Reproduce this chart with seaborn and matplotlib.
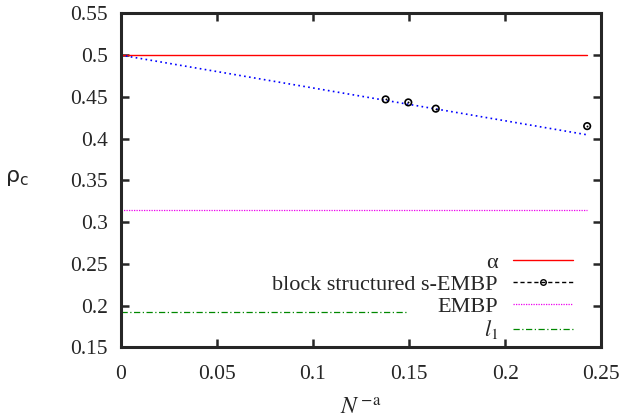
import matplotlib
matplotlib.use("Agg")
import matplotlib.pyplot as plt
from matplotlib.lines import Line2D
import seaborn as sns

# data
alpha_x = [0.0, 0.2427]
alpha_y = [0.5, 0.5]

sembp_x = [0.1378, 0.1496, 0.1639, 0.2427]
sembp_y = [0.447, 0.4434, 0.4359, 0.415]

fit_x = [0.0, 0.2427]
fit_y = [0.5, 0.4046]

embp_x = [0.0, 0.2427]
embp_y = [0.315, 0.315]

l1_x = [0.0, 0.149]
l1_y = [0.192, 0.192]

xticks = [0, 0.05, 0.1, 0.15, 0.2, 0.25]
xtick_labels = ["0", "0.05", "0.1", "0.15", "0.2", "0.25"]
yticks = [0.15, 0.2, 0.25, 0.3, 0.35, 0.4, 0.45, 0.5, 0.55]
ytick_labels = ["0.15", "0.2", "0.25", "0.3", "0.35", "0.4", "0.45", "0.5", "0.55"]

sns.set_style("ticks")
plt.rcParams["font.family"] = ["Liberation Serif", "DejaVu Serif"]
plt.rcParams["mathtext.fontset"] = "stix"

fig = plt.figure(figsize=(6.23, 4.19), dpi=100)
ax = fig.add_axes([0.194, 0.171, 0.771, 0.797])

sns.lineplot(x=alpha_x, y=alpha_y, ax=ax, color="#ff0000", lw=1.0)
sns.lineplot(x=fit_x, y=fit_y, ax=ax, color="#0000ff", lw=1.2, linestyle=(0, (1, 2)))
sns.lineplot(x=embp_x, y=embp_y, ax=ax, color="#ee00ee", lw=0.9, linestyle=(0, (1, 1)))
sns.lineplot(x=l1_x, y=l1_y, ax=ax, color="#008800", lw=0.9, linestyle=(0, (5, 2, 1, 2)))
sns.scatterplot(x=sembp_x, y=sembp_y, ax=ax, marker="o", s=22,
                facecolor="none", edgecolor="black", linewidth=1.2, zorder=5)
sns.scatterplot(x=sembp_x, y=sembp_y, ax=ax, marker="o", s=2,
                color="black", linewidth=0, zorder=6)

ax.set_xlim(0, 0.25)
ax.set_ylim(0.15, 0.55)
ax.set_xticks(xticks)
ax.set_xticklabels(xtick_labels)
ax.set_yticks(yticks)
ax.set_yticklabels(ytick_labels)
ax.tick_params(direction="in", length=6, width=1.8, top=True, right=True,
               labelsize=15.5)
ax.tick_params(axis="x", pad=13)
ax.tick_params(axis="y", pad=9.5)
for sp in ax.spines.values():
    sp.set_linewidth(2.2)
    sp.set_visible(True)

ax.set_xlabel(r"$N^{\,\mathrm{-a}}$", fontsize=17)
ax.xaxis.set_label_coords(0.5, -0.152)
ax.set_ylabel(r"ρ$\mathregular{_c}$", fontsize=16, rotation=0, ha="center",
              va="center", family="DejaVu Sans")
ax.yaxis.set_label_coords(-0.217, 0.506)

handles = [
    Line2D([], [], color="#ff0000", lw=1.0),
    Line2D([], [], color="black", lw=1.0, linestyle=(0, (3, 2)), marker="o",
           markersize=4, markerfacecolor="none", markeredgewidth=1.0),
    Line2D([], [], color="#ee00ee", lw=0.9, linestyle=(0, (1, 1))),
    Line2D([], [], color="#008800", lw=0.9, linestyle=(0, (5, 2, 1, 2))),
]
labels = ["α", "block structured s-EMBP", "EMBP", r"$l_1$"]
ax.legend(handles, labels, loc="lower right", frameon=False, markerfirst=False,
          fontsize=16, handlelength=2.7, handletextpad=0.68, labelspacing=0.07,
          bbox_to_anchor=(0.983, -0.042))

fig.savefig("out.png", dpi=100)
